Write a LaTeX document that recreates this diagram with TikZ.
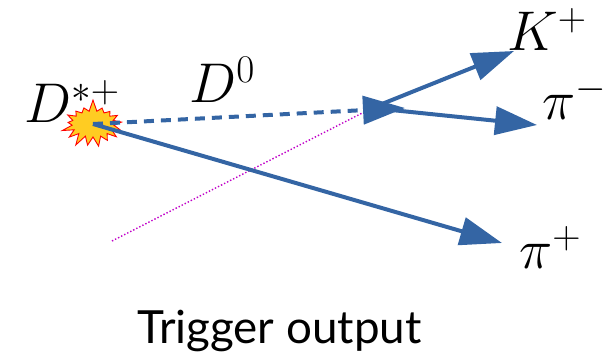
\documentclass[tikz,border=0pt]{standalone}
\usepackage{fix-cm}
\usepackage{fontspec}
\setmainfont{Lato}
\usetikzlibrary{shapes.symbols, arrows.meta, positioning}
\definecolor{trackblue}{HTML}{3465A4}
\definecolor{dottedpink}{HTML}{C000C8}
\definecolor{burstyellow}{HTML}{FFCC22}

\begin{document}
\begin{tikzpicture}[
    x=1pt, y=1pt,
    particle/.style={font=\fontsize{56}{67}\selectfont, inner sep=0pt, anchor=base west},
    caption/.style={font=\fontsize{45.7}{55}\selectfont, inner sep=0pt, anchor=base west},
    burst/.style={draw=red, fill=burstyellow, line width=0.9pt, starburst, starburst points=17, starburst point height=12pt, random starburst=7, minimum width=66pt, minimum height=50pt, inner sep=0pt},
    track/.style={draw=trackblue, line width=4pt, -{Triangle[length=42pt, width=28pt, fill=trackblue]}},
    dashedtrack/.style={track, dash pattern=on 10pt off 7pt},
    flightline/.style={draw=dottedpink, line width=1.4pt, dash pattern=on 1.4pt off 2pt}
]
\useasboundingbox (0,0) rectangle (607,356);

% Labels
\node[particle] (dstarlabel) at (24,233) {$D^{*+}$};
\node[particle] (dzerolabel) at (189,253) {$D^0$};
\node[particle] (kpluslabel) at (507,305) {$K^+$};
\node[particle] (piminuslabel) at (542,236) {$\pi^-$};
\node[particle] (pipluslabel) at (519,87) {$\pi^+$};
\node[caption] (triggerlabel) at (137,13) {Trigger output};

% Production point
\node[burst] (dstar) at (93,232) {};

% Decay vertex and arrow ends
\coordinate[above right=16pt and 279pt of dstar.center] (vertex);
\coordinate[right=33pt of vertex] (dzerotip);
\coordinate[above right=57pt and 142pt of vertex] (kplustip);
\coordinate[below right=17pt and 165pt of vertex] (piminustip);
\coordinate[below right=119pt and 409pt of dstar.center] (piplustip);
\coordinate[below left=133pt and 260pt of vertex] (flightend);

% Dotted line
\draw[flightline] (flightend) -- (vertex);

% Tracks
\draw[dashedtrack] (dstar.center) -- (dzerotip);
\draw[track] (vertex) -- (kplustip);
\draw[track] (vertex) -- (piminustip);
\draw[track] (dstar.center) -- (piplustip);

\end{tikzpicture}
\end{document}
